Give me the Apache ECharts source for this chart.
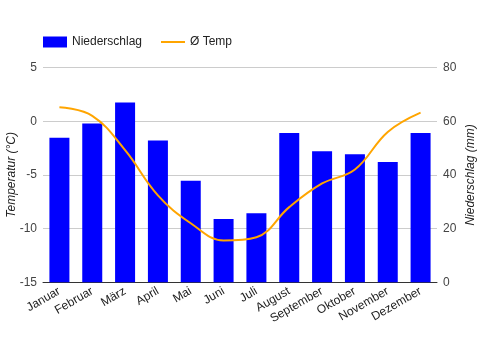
<!DOCTYPE html>
<html>
<head>
<meta charset="utf-8">
<script src="https://cdn.jsdelivr.net/npm/echarts@6/dist/echarts.min.js"></script>
<style>
html, body { margin: 0; padding: 0; background: #fff; }
#chart { width: 481px; height: 350px; }
</style>
</head>
<body>
<div id="chart"></div>
<script>
var months = ['Januar', 'Februar', 'März', 'April', 'Mai', 'Juni', 'Juli', 'August', 'September', 'Oktober', 'November', 'Dezember'];
var niederschlag = [53.8, 59.1, 67, 52.8, 37.8, 23.6, 25.7, 55.6, 48.8, 47.7, 44.8, 55.6];
var temp = [1.3, 0.5, -2.7, -6.9, -9.5, -11.1, -10.8, -8.0, -5.8, -4.5, -1.0, 0.8];

var myChart = echarts.init(document.getElementById('chart'));
var font = 'Liberation Sans, Arial, sans-serif';
var legendText = { fontSize: 12, color: '#222', fontFamily: font };

var option = {
	animation: false,
	textStyle: { fontFamily: font },
	legend: [{
		left: 38,
		top: 31,
		itemWidth: 24,
		itemHeight: 11,
		textStyle: legendText,
		data: [{ name: 'Niederschlag', icon: 'rect' }]
	}, {
		left: 156,
		top: 31,
		itemWidth: 24,
		itemHeight: 2,
		textStyle: legendText,
		data: [{ name: 'Ø Temp', icon: 'rect' }]
	}],
	grid: { left: 43, right: 44, top: 67.5, bottom: 67.7, outerBoundsMode: 'none', containLabel: false },
	xAxis: {
		type: 'category',
		data: months,
		axisLine: { onZero: false, lineStyle: { color: '#333', width: 1 } },
		axisTick: { show: false },
		axisLabel: { rotate: 30, interval: 0, margin: 8, fontSize: 12, color: '#222', fontFamily: font }
	},
	yAxis: [{
		type: 'value',
		min: -15,
		max: 5,
		interval: 5,
		name: 'Temperatur (°C)',
		nameLocation: 'middle',
		nameGap: 25,
		nameMoveOverlap: false,
		nameTextStyle: { fontStyle: 'italic', fontSize: 12, color: '#222', fontFamily: font },
		axisLabel: { fontSize: 12, color: '#444', margin: 6, fontFamily: font },
		splitLine: { lineStyle: { color: '#ccc' } },
		axisLine: { show: false },
		axisTick: { show: false }
	}, {
		type: 'value',
		min: 0,
		max: 80,
		interval: 20,
		name: 'Niederschlag (mm)',
		nameLocation: 'middle',
		nameGap: 28,
		nameMoveOverlap: false,
		nameTextStyle: { fontStyle: 'italic', fontSize: 12, color: '#222', fontFamily: font },
		axisLabel: { fontSize: 12, color: '#444', margin: 6, fontFamily: font },
		splitLine: { show: false },
		axisLine: { show: false },
		axisTick: { show: false }
	}],
	series: [{
		name: 'Niederschlag',
		type: 'bar',
		yAxisIndex: 1,
		barWidth: 20,
		itemStyle: { color: '#0000ff' },
		data: niederschlag
	}, {
		name: 'Ø Temp',
		type: 'line',
		yAxisIndex: 0,
		smooth: 0.4,
		symbol: 'none',
		lineStyle: { color: '#ffa500', width: 2 },
		itemStyle: { color: '#ffa500' },
		data: temp
	}]
};

myChart.setOption(option);
</script>
</body>
</html>
